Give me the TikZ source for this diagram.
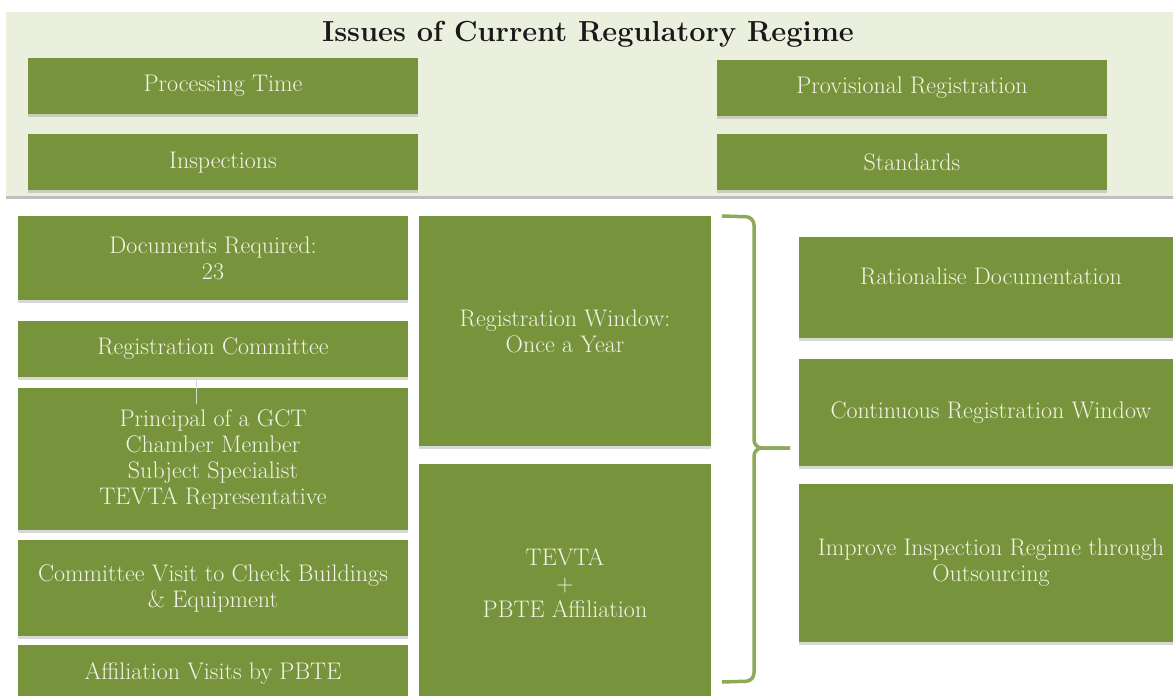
\documentclass[tikz,border=0pt]{standalone}
\usepackage{tikz}
\usetikzlibrary{positioning, shadows}

\definecolor{olivebox}{HTML}{77933C}
\definecolor{palepanel}{HTML}{EBF0DE}
\definecolor{bracegreen}{HTML}{8DAA58}
\definecolor{creamtext}{HTML}{F2F4E6}

\begin{document}
\begin{tikzpicture}[
  x=1pt, y=-1pt,
  box/.style={fill=olivebox, text=creamtext, align=center, inner sep=0pt,
    font=\fontsize{24}{26}\selectfont,
    drop shadow={shadow xshift=0pt, shadow yshift=-2.5pt, opacity=0.25, fill=black!60}},
  topbox/.style={box, minimum width=390pt, minimum height=56pt},
  leftbox/.style={box, minimum width=390pt},
  midbox/.style={box, minimum width=292pt},
  rightbox/.style={box, minimum width=384pt},
  bracket/.style={draw=bracegreen, line width=3.5pt, rounded corners=8pt},
  thinline/.style={draw=palepanel!80!gray, line width=0.6pt},
]
\clip (0,0) rectangle (1173,696);
\fill[white] (0,0) rectangle (1173,696);

% Top panel
\fill[black!25] (6,12) rectangle (1173,199);
\fill[palepanel] (6,12) rectangle (1173,196);
\node[font=\fontsize{29}{32}\selectfont\bfseries, text=black!90] (title) at (588,34) {Issues of Current Regulatory Regime};

\node[topbox] (proc) at (223,86) {Processing Time};
\node[topbox, below=20pt of proc] (insp) {Inspections};
\node[topbox] (prov) at (912,88) {Provisional Registration};
\node[topbox, below=18pt of prov] (stds) {Standards};

% Left column
\node[leftbox, minimum height=84pt] (docs) at (213,258) {Documents Required:\\23};
\node[leftbox, minimum height=56pt] (regcom) at (213,349) {Registration Committee};
\node[leftbox, minimum height=142pt] (princ) at (213,459) {Principal of a GCT\\Chamber Member\\Subject Specialist\\TEVTA Representative};
\node[leftbox, minimum height=96pt] (visit) at (213,588) {Committee Visit to Check Buildings\\\& Equipment};
\node[leftbox, minimum height=56pt] (affil) at (213,673) {Affiliation Visits by PBTE};

% Middle column
\node[midbox, minimum height=230pt] (regwin) at (565,331) {Registration Window:\\Once a Year};
\node[midbox, minimum height=238pt] (tevta) at (565,583) {TEVTA\\+\\PBTE Affiliation};

% Right column
\node[rightbox, minimum height=101pt] (ratdoc) at (991,287.5) {\raisebox{22pt}{Rationalise Documentation}};
\node[rightbox, minimum height=107pt] (contreg) at (991,412.5) {Continuous Registration Window};
\node[rightbox, minimum height=158pt] (improve) at (991,563) {Improve Inspection Regime through\\Outsourcing};

% Connector
\coordinate (princtop) at (196,404);
\draw[thinline] (regcom.south -| princtop) -- (princtop);

% Bracket
\coordinate (tip) at (790,448);
\draw[bracket] (722,216) -- (754,217) -- (754,448) -- (tip);
\draw[bracket] (722,682) -- (754,681) -- (754,448) -- (tip);
\end{tikzpicture}
\end{document}
